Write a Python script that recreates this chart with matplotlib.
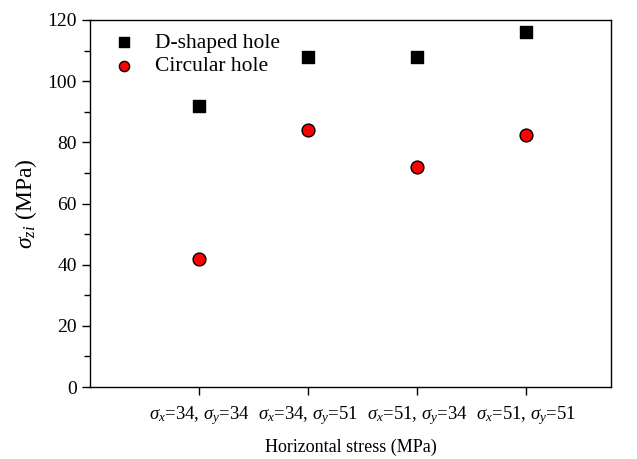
import matplotlib
matplotlib.use("Agg")
import matplotlib.pyplot as plt
from matplotlib.ticker import MultipleLocator

plt.rcParams['font.family'] = ['Liberation Serif', 'DejaVu Serif']
plt.rcParams['mathtext.fontset'] = 'custom'
plt.rcParams['mathtext.rm'] = 'Liberation Serif'
plt.rcParams['mathtext.it'] = 'Liberation Serif:italic'

categories = [r'$\sigma_x$=34, $\sigma_y$=34', r'$\sigma_x$=34, $\sigma_y$=51',
              r'$\sigma_x$=51, $\sigma_y$=34', r'$\sigma_x$=51, $\sigma_y$=51']
d_shaped = [92, 108, 108, 116]
circular = [41.8, 84, 72, 82.3]

fig = plt.figure(figsize=(6.37, 4.59), dpi=100)
ax = fig.add_axes([90/637, 1-387/459, (611-90)/637, (387-20)/459])
xs = list(range(1, len(categories)+1))
ax.scatter(xs, d_shaped, marker='s', s=75, color='black', label='D-shaped hole', zorder=3)
ax.scatter(xs, circular, marker='o', s=85, facecolor='red', edgecolor='black', linewidth=1.0,
           label='Circular hole', zorder=3)

ax.set_xlim(0, 4.78)
ax.set_ylim(0, 120)
ax.set_xticks(xs)
ax.set_xticklabels(categories, fontsize=13.5)
ax.yaxis.set_major_locator(MultipleLocator(20))
ax.yaxis.set_minor_locator(MultipleLocator(10))
ax.tick_params(axis='y', which='major', direction='out', length=6, width=1, labelsize=14)
ax.tick_params(axis='y', which='minor', direction='out', length=4, width=1)
ax.tick_params(axis='x', which='major', direction='out', length=6, width=1, pad=6)
for s in ax.spines.values():
    s.set_linewidth(1.0)

ax.set_xlabel('Horizontal stress (MPa)', fontsize=13, labelpad=9)
ax.set_ylabel(r'$\sigma_{zi}$ (MPa)', fontsize=17, labelpad=6)

ax.legend(loc='upper left', frameon=False, fontsize=15.5, handletextpad=0.4,
          borderaxespad=0.2, labelspacing=0.15, bbox_to_anchor=(0.0, 1.0),
          markerscale=0.8)

fig.savefig('out.png', dpi=100)
